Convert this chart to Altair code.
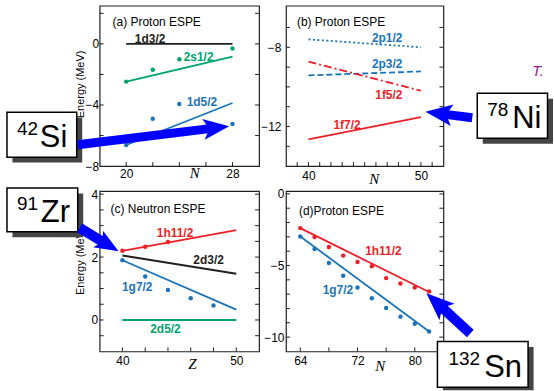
import math
import altair as alt
import pandas as pd

RED = "#ec1f27"
BLUE = "#1b74bb"
GREEN = "#00a36c"
BLACK = "#231f20"
ARROW = "#0000ff"
SHADOW = "#454545"
PURPLE = "#8e2490"
FONT = "Liberation Sans"
SERIF = "Liberation Serif"

# ---------------- values ----------------
# (a) proton ESPE vs N
a_names = ["1d3/2", "2s1/2", "1d5/2"]
a_colors = [BLACK, GREEN, BLUE]
a_x0 = [20, 20, 20]
a_x1 = [28, 28, 28]
a_y0 = [0.00, -2.47, -6.62]
a_y1 = [0.00, -0.84, -3.87]
a_pt_n = [20, 22, 24, 28]
a_pt_2s12 = [-2.47, -1.69, -1.00, -0.30]
a_pt_1d52 = [-6.62, -4.90, -3.94, -5.24]
a_lab_x = [21.8, 25.45, 25.7]
a_lab_y = [0.30, -0.87, -3.81]
a_xticks = [20, 28]
a_yticks = [0, -4, -8]
a_minor_x = [20, 22, 24, 26, 28]
a_minor_y = [-6, -4, -2, 0, 2]

# (b) proton ESPE vs N
b_names = ["2p1/2", "2p3/2", "1f5/2", "1f7/2"]
b_colors = [BLUE, BLUE, RED, RED]
b_dashes = [[2, 2.5], [6, 3], [8, 3, 2, 3], []]
b_x0 = [40, 40, 40, 40]
b_x1 = [50, 50, 50, 50]
b_y0 = [-7.60, -9.42, -8.73, -12.65]
b_y1 = [-8.00, -9.22, -10.19, -11.53]
b_lab_x = [47.0, 47.0, 47.15, 43.43]
b_lab_y = [-7.51, -8.85, -10.39, -11.90]
b_xticks = [40, 50]
b_yticks = [-8, -12]
b_minor_x = [39, 40, 41, 42, 43, 44, 45, 46, 47, 48, 49, 50, 51]
b_minor_y = [-13, -12, -11, -10, -9, -8, -7]

# (c) neutron ESPE vs Z
c_names = ["1h11/2", "2d3/2", "1g7/2", "2d5/2"]
c_colors = [RED, BLACK, BLUE, GREEN]
c_x0 = [40, 40, 40, 40]
c_x1 = [50, 50, 50, 50]
c_y0 = [2.20, 2.05, 1.90, 0.00]
c_y1 = [2.86, 1.47, 0.33, 0.00]
c_pt_z_h = [40, 42, 44]
c_pt_1h112 = [2.20, 2.33, 2.48]
c_pt_z_g = [40, 42, 44, 46, 48]
c_pt_1g72 = [1.90, 1.38, 0.95, 0.69, 0.46]
c_lab_x = [44.62, 47.57, 41.30, 43.78]
c_lab_y = [2.77, 1.90, 1.06, -0.28]
c_xticks = [40, 50]
c_yticks = [0, 2, 4]
c_minor_x = [40, 42, 44, 46, 48, 50]
c_minor_y = [-0.5, 0, 0.5, 1, 1.5, 2, 2.5, 3, 3.5, 4]

# (d) proton ESPE vs N
d_names = ["1h11/2", "1g7/2"]
d_colors = [RED, BLUE]
d_x0 = [64, 64]
d_x1 = [82, 82]
d_y0 = [-2.39, -2.97]
d_y1 = [-6.85, -9.61]
d_pt_n = [64, 66, 68, 70, 72, 74, 76, 78, 80, 82]
d_pt_1h112 = [-2.39, -3.01, -3.71, -4.31, -4.75, -5.05, -5.88, -6.25, -6.53, -6.81]
d_pt_1g72 = [-2.97, -3.85, -4.82, -5.72, -6.53, -7.29, -7.97, -8.57, -9.06, -9.61]
d_lab_x = [75.62, 69.26]
d_lab_y = [-3.99, -6.70]
d_xticks = [64, 72, 80]
d_yticks = [0, -5, -10]
d_minor_x = [64, 68, 72, 76, 80]
d_minor_y = [-10, -9, -8, -7, -6, -5, -4, -3, -2, -1, 0]

# ---------------- layout of the four panels (page pixels) ----------------
PANELS = {
    "a": dict(ox=99, oy=5, w=160, h=161, xdom=[18, 30], ydom=[-8, 2.5]),
    "b": dict(ox=286, oy=5, w=158, h=161, xdom=[38, 52], ydom=[-14, -5.9]),
    "c": dict(ox=99, oy=191, w=160, h=161, xdom=[38, 52], ydom=[-1, 4.1]),
    "d": dict(ox=286, oy=191, w=158, h=161, xdom=[62, 84], ydom=[-11, 0.2]),
}

# annotation boxes / arrows (page pixels, converted to each panel's data units)
ANNOTS = {
    "a": dict(box=(6, 112, 76, 157), sup="42", sym="Si", sup_x=16, sym_x=39,
              tail=(77, 144.5), tip=(229, 126), head=26, shaft=9),
    "b": dict(box=(478, 93, 548.5, 138), sup="78", sym="Ni", sup_x=488, sym_x=513,
              tail=(473, 117.5), tip=(426, 111.5), head=27, shaft=9),
    "c": dict(box=(6, 188, 77, 232), sup="91", sym="Zr", sup_x=16, sym_x=40,
              tail=(79, 228), tip=(118, 251.5), head=24, shaft=10),
    "d": dict(box=(438, 342, 529, 388), sup="132", sym="Sn", sup_x=449, sym_x=485,
              tail=(471, 334), tip=(427, 293.5), head=28, shaft=10),
}
SHADOW_OFF = 5.5
CANVAS_W, CANVAS_H = 554, 391
ARROW_PATH = "M1,0L-1,-0.8L-0.55,0L-1,0.8Z"

PANEL_TITLES = {
    "a": ("(a) Proton ESPE", 112, 25),
    "b": ("(b) Proton ESPE", 297, 25),
    "c": ("(c) Neutron ESPE", 110, 213),
    "d": ("(d)Proton ESPE", 299, 215),
}


def to_data(p, px, py):
    (x0, x1), (y0, y1) = p["xdom"], p["ydom"]
    return (x0 + (px - p["ox"]) * (x1 - x0) / p["w"],
            y1 - (py - p["oy"]) * (y1 - y0) / p["h"])


def build(key, lines, points, labels, xvals, yvals, minor_x, minor_y,
          xtitle, xtitle_x, xtitle_y, xlab_pad, ytitle, ytitle_y, ylab_pad,
          extra_text=None):
    p = PANELS[key]
    W, H = p["w"], p["h"]
    xs = alt.Scale(domain=p["xdom"], nice=False, zero=False)
    ys = alt.Scale(domain=p["ydom"], nice=False, zero=False)
    xax = alt.Axis(values=xvals, format="d", title=xtitle, titleFont=SERIF,
                   titleFontStyle="italic", titleFontWeight="normal", titleFontSize=15,
                   titleX=xtitle_x, titleY=xtitle_y, titleAlign="center",
                   titleBaseline="alphabetic", labelBaseline="alphabetic",
                   labelPadding=xlab_pad)
    if ytitle:
        yax = alt.Axis(values=yvals, format="d", title=ytitle, titleAngle=270,
                       titleX=-14, titleY=ytitle_y, titleAlign="center",
                       titleBaseline="bottom", titleFont=FONT, titleFontSize=11,
                       titleFontWeight="normal", labelPadding=ylab_pad,
                       labelBaseline="middle")
    else:
        yax = alt.Axis(values=yvals, format="d", title="", labelPadding=ylab_pad,
                       labelBaseline="middle")

    def X(f="x"):
        return alt.X(f"{f}:Q", scale=xs, axis=xax)

    def Y(f="y"):
        return alt.Y(f"{f}:Q", scale=ys, axis=yax)

    layers = []
    # inward ticks
    my = pd.DataFrame({"y": minor_y})
    mx = pd.DataFrame({"x": minor_x})
    layers.append(alt.Chart(my).mark_rule(color=BLACK, strokeWidth=1).encode(
        y=Y(), x=alt.value(0), x2=alt.value(4)))
    layers.append(alt.Chart(my).mark_rule(color=BLACK, strokeWidth=1).encode(
        y=Y(), x=alt.value(W - 4), x2=alt.value(W)))
    layers.append(alt.Chart(mx).mark_rule(color=BLACK, strokeWidth=1).encode(
        x=X(), y=alt.value(H - 4), y2=alt.value(H)))

    # fitted lines
    for (x0, y0, x1, y1, col, dash) in lines:
        kw = dict(color=col, strokeWidth=1.8, strokeCap="butt")
        if dash:
            kw["strokeDash"] = dash
        df = pd.DataFrame({"x": [x0], "y": [y0], "x2": [x1], "y2": [y1]})
        layers.append(alt.Chart(df).mark_rule(**kw).encode(
            x=X(), y=Y(), x2="x2:Q", y2="y2:Q"))

    # points
    if points is not None:
        layers.append(alt.Chart(points).mark_circle(size=20, opacity=1).encode(
            x=X(), y=Y(), color=alt.Color("c:N", scale=None)))

    # curve labels
    layers.append(alt.Chart(labels).mark_text(
        font=FONT, fontSize=12, fontWeight="bold", align="center",
        baseline="middle").encode(x=X(), y=Y(), text="t:N",
                                  color=alt.Color("c:N", scale=None)))

    # panel title
    tt, tx, ty = PANEL_TITLES[key]
    dx, dy = to_data(p, tx, ty)
    layers.append(alt.Chart(pd.DataFrame({"x": [dx], "y": [dy], "t": [tt]})).mark_text(
        font=FONT, fontSize=12, align="left", baseline="alphabetic",
        color="black").encode(x=X(), y=Y(), text="t:N"))

    # annotation box with nucleus name + arrow
    an = ANNOTS[key]
    l, t, r, b = an["box"]
    sl, st = to_data(p, l + SHADOW_OFF, t + SHADOW_OFF)
    sr, sb = to_data(p, min(r + SHADOW_OFF, CANVAS_W), min(b + SHADOW_OFF, CANVAS_H))
    layers.append(alt.Chart(pd.DataFrame({"x": [sl], "y": [st], "x2": [sr], "y2": [sb]}))
                  .mark_rect(color=SHADOW).encode(x=X(), y=Y(), x2="x2:Q", y2="y2:Q"))
    bl, bt = to_data(p, l, t)
    br, bb = to_data(p, r, b)
    layers.append(alt.Chart(pd.DataFrame({"x": [bl], "y": [bt], "x2": [br], "y2": [bb]}))
                  .mark_rect(fill="white", stroke="black", strokeWidth=1.5)
                  .encode(x=X(), y=Y(), x2="x2:Q", y2="y2:Q"))

    (tx0, ty0), (hx, hy) = an["tail"], an["tip"]
    ddx, ddy = hx - tx0, hy - ty0
    L = math.hypot(ddx, ddy)
    ux, uy = ddx / L, ddy / L
    hl = an["head"]
    s0 = to_data(p, tx0, ty0)
    s1 = to_data(p, hx - ux * hl * 0.6, hy - uy * hl * 0.6)
    hc = to_data(p, hx - ux * hl / 2, hy - uy * hl / 2)
    ang = math.degrees(math.atan2(uy, ux)) % 360
    layers.append(alt.Chart(pd.DataFrame({"x": [s0[0]], "y": [s0[1]], "x2": [s1[0]], "y2": [s1[1]]}))
                  .mark_rule(color=ARROW, strokeWidth=an["shaft"], strokeCap="butt")
                  .encode(x=X(), y=Y(), x2="x2:Q", y2="y2:Q"))
    layers.append(alt.Chart(pd.DataFrame({"x": [hc[0]], "y": [hc[1]]}))
                  .mark_point(shape=ARROW_PATH, size=hl * hl, angle=ang, filled=True,
                              color=ARROW, opacity=1, strokeWidth=0)
                  .encode(x=X(), y=Y()))

    h = b - t
    sx, sy = to_data(p, an["sup_x"], t + 0.51 * h)
    mx_, my_ = to_data(p, an["sym_x"], t + 0.775 * h)
    layers.append(alt.Chart(pd.DataFrame({"x": [sx], "y": [sy], "t": [an["sup"]]}))
                  .mark_text(font=FONT, fontSize=19, align="left", baseline="alphabetic",
                             color="black").encode(x=X(), y=Y(), text="t:N"))
    layers.append(alt.Chart(pd.DataFrame({"x": [mx_], "y": [my_], "t": [an["sym"]]}))
                  .mark_text(font=FONT, fontSize=31, align="left", baseline="alphabetic",
                             color="black").encode(x=X(), y=Y(), text="t:N"))

    if extra_text:
        et, ex, ey = extra_text
        ex_, ey_ = to_data(p, ex, ey)
        layers.append(alt.Chart(pd.DataFrame({"x": [ex_], "y": [ey_], "t": [et]}))
                      .mark_text(font=FONT, fontSize=15, fontStyle="italic", align="left",
                                 baseline="alphabetic", color=PURPLE, limit=CANVAS_W - ex,
                                 ellipsis="\u200b")
                      .encode(x=X(), y=Y(), text="t:N"))

    return alt.layer(*layers).properties(width=W, height=H)


def lines_of(x0, y0, x1, y1, colors, dashes=None):
    out = []
    for i in range(len(x0)):
        out.append((x0[i], y0[i], x1[i], y1[i], colors[i], dashes[i] if dashes else []))
    return out


a_points = pd.concat([
    pd.DataFrame({"x": a_pt_n, "y": a_pt_2s12, "c": GREEN}),
    pd.DataFrame({"x": a_pt_n, "y": a_pt_1d52, "c": BLUE}),
])
c_points = pd.concat([
    pd.DataFrame({"x": c_pt_z_h, "y": c_pt_1h112, "c": RED}),
    pd.DataFrame({"x": c_pt_z_g, "y": c_pt_1g72, "c": BLUE}),
])
d_points = pd.concat([
    pd.DataFrame({"x": d_pt_n, "y": d_pt_1h112, "c": RED}),
    pd.DataFrame({"x": d_pt_n, "y": d_pt_1g72, "c": BLUE}),
])

A = build("a", lines_of(a_x0, a_y0, a_x1, a_y1, a_colors), a_points,
          pd.DataFrame({"x": a_lab_x, "y": a_lab_y, "t": a_names, "c": a_colors}),
          a_xticks, a_yticks, a_minor_x, a_minor_y,
          "N", 95, 11, 11, "Energy (MeV)", 78.5, 1)
B = build("b", lines_of(b_x0, b_y0, b_x1, b_y1, b_colors, b_dashes), None,
          pd.DataFrame({"x": b_lab_x, "y": b_lab_y, "t": b_names, "c": b_colors}),
          b_xticks, b_yticks, b_minor_x, b_minor_y,
          "N", 88, 17, 13, "", 0, 5, extra_text=("T. Otsuka", 533, 76))
C = build("c", lines_of(c_x0, c_y0, c_x1, c_y1, c_colors), c_points,
          pd.DataFrame({"x": c_lab_x, "y": c_lab_y, "t": c_names, "c": c_colors}),
          c_xticks, c_yticks, c_minor_x, c_minor_y,
          "Z", 92.7, 17, 13, "Energy (MeV)", 70, 2)
D = build("d", lines_of(d_x0, d_y0, d_x1, d_y1, d_colors), d_points,
          pd.DataFrame({"x": d_lab_x, "y": d_lab_y, "t": d_names, "c": d_colors}),
          d_xticks, d_yticks, d_minor_x, d_minor_y,
          "N", 94, 19, 13, "", 0, 2)

chart = alt.concat(
    A, B, C, D, columns=2,
    spacing=alt.RowColnumber(row=25, column=27),
    bounds="flush",
).properties(
    padding={"left": 5, "top": 4, "right": 0, "bottom": 0},
    background="white",
).configure_view(
    stroke=BLACK, strokeWidth=1.2
).configure_axis(
    labelFont=FONT, labelFontSize=12, labelColor="black", titleColor="black",
    labelFlush=False, labelOverlap=False, grid=False, domain=False, ticks=False,
    tickSize=0,
)

chart.save("out.html", embed_options={"renderer": "svg", "actions": False})
